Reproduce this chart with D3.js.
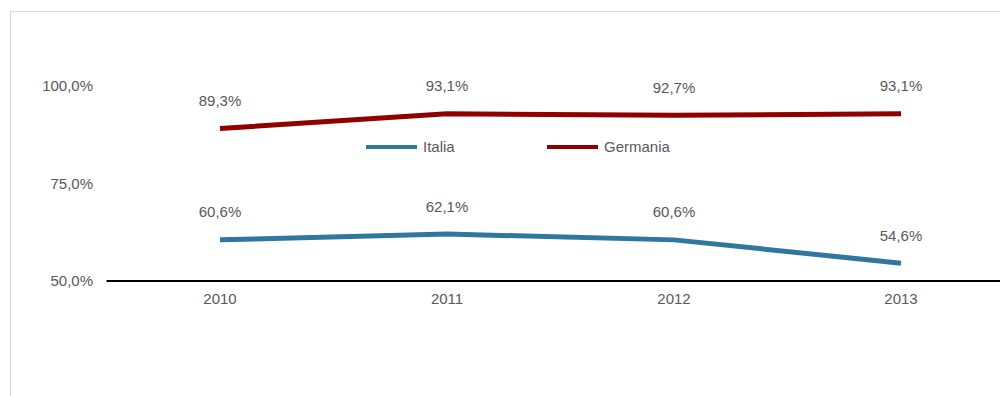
<!DOCTYPE html>
<html>
<head>
<meta charset="utf-8">
<script src="https://cdn.jsdelivr.net/npm/d3@7"></script>
<style>
  html, body { margin: 0; padding: 0; background: #fff; }
  svg { display: block; font-family: "Liberation Sans", Arial, sans-serif; }
</style>
</head>
<body>
<svg id="chart" width="1000" height="396"></svg>
<script>
// Years and series values (percent)
const years = ["2010", "2011", "2012", "2013"];
const italia = [60.6, 62.1, 60.6, 54.6];
const germania = [89.3, 93.1, 92.7, 93.1];
const yTicks = [50, 75, 100];

const series = [
  { name: "Italia", values: italia, color: "#31769f" },
  { name: "Germania", values: germania, color: "#900000" }
];

const svg = d3.select("#chart");
const textColor = "#595959";
const fmt = v => d3.format(".1f")(v).replace(".", ",") + "%";

// Outer frame
svg.append("rect")
  .attr("x", 10.5).attr("y", 11.5)
  .attr("width", 1000).attr("height", 400)
  .attr("fill", "none").attr("stroke", "#d9d9d9").attr("stroke-width", 1);

const x = d3.scaleBand().domain(years).range([106.5, 1014.5]);
const y = d3.scaleLinear().domain([50, 100]).range([281, 87]);
const cx = d => x(d) + x.bandwidth() / 2;

// Y axis labels
const yAxis = d3.axisLeft(y).tickValues(yTicks).tickFormat(fmt).tickSize(0).tickPadding(0);
const yg = svg.append("g").attr("transform", "translate(93,0)").call(yAxis);
yg.select(".domain").remove();
yg.selectAll("text").attr("fill", textColor).style("font-size", "15px")
  .style("font-family", "'Liberation Sans', Arial, sans-serif")
  .attr("dy", d => d === 100 ? "0.22em" : "0.32em");

// X axis (baseline at 50%)
const xAxis = d3.axisBottom(x).tickSize(0).tickPadding(12);
const xg = svg.append("g").attr("transform", `translate(0,${y(50)})`).call(xAxis);
xg.select(".domain").attr("stroke", "#000").attr("stroke-width", 2)
  .attr("d", `M106.5,0H1000`);
xg.selectAll("text").attr("fill", textColor).style("font-size", "15px")
  .style("font-family", "'Liberation Sans', Arial, sans-serif");

// Lines
const line = d3.line().x((d, i) => cx(years[i])).y(d => y(d));
series.forEach(s => {
  svg.append("path")
    .datum(s.values)
    .attr("d", line)
    .attr("fill", "none")
    .attr("stroke", s.color)
    .attr("stroke-width", 5);

  // Value labels above each point
  svg.append("g").selectAll("text")
    .data(s.values)
    .join("text")
    .attr("x", (d, i) => cx(years[i]))
    .attr("y", d => y(d) - 22.5)
    .attr("text-anchor", "middle")
    .attr("fill", textColor)
    .style("font-size", "15px")
    .text(d => fmt(d));
});

// Legend
const legendPos = [366, 547];
series.forEach((s, i) => {
  const g = svg.append("g").attr("transform", `translate(${legendPos[i]},147)`);
  g.append("line").attr("x1", 0).attr("x2", 51).attr("y1", 0).attr("y2", 0)
    .attr("stroke", s.color).attr("stroke-width", 4);
  g.append("text").attr("x", 57).attr("y", 0).attr("dy", "0.35em")
    .attr("fill", textColor).style("font-size", "15px").text(s.name);
});
</script>
</body>
</html>
